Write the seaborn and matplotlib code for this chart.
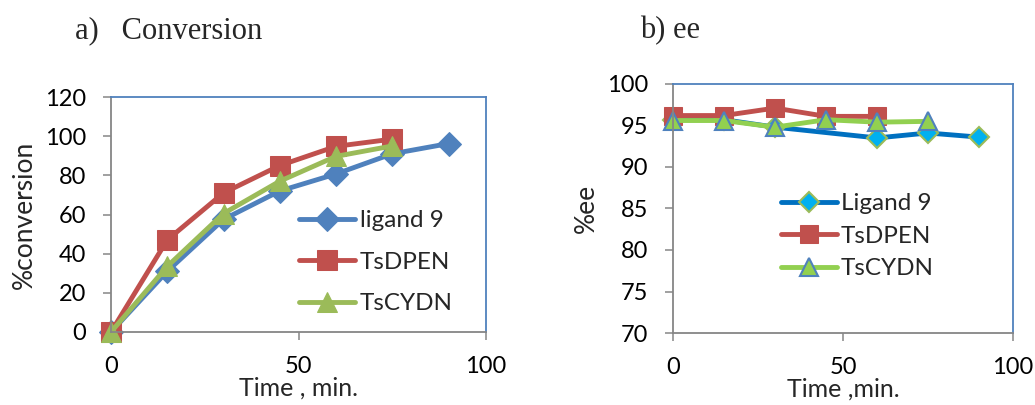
import matplotlib
matplotlib.use("Agg")
import matplotlib.pyplot as plt
import seaborn as sns

# Reaction time points (min)
time_conv = [0, 15, 30, 45, 60, 75, 90]
time_conv_short = [0, 15, 30, 45, 60, 75]
time_ee_ligand9 = [0, 15, 30, 60, 75, 90]
time_ee_tsdpen = [0, 15, 30, 45, 60]
time_ee_tscydn = [0, 15, 30, 45, 60, 75]

# a) Conversion (%)
conv_ligand9 = [0, 31, 57.5, 72, 80.7, 91, 96.2]
conv_tsdpen = [0, 47, 71, 85, 94.8, 98.5]
conv_tscydn = [0, 33.5, 60.5, 77, 89.7, 95]

# b) Enantiomeric excess (%)
ee_ligand9 = [95.7, 95.7, 94.8, 93.5, 94.1, 93.6]
ee_tsdpen = [96.2, 96.2, 97.1, 96.1, 96.1]
ee_tscydn = [95.6, 95.6, 94.8, 95.7, 95.4, 95.5]

x_ticks = [0, 50, 100]
conv_ticks = [0, 20, 40, 60, 80, 100, 120]
ee_ticks = [70, 75, 80, 85, 90, 95, 100]

sns.set_theme(style="white")
plt.rcParams['font.family'] = ['Lato', 'DejaVu Sans']

W, H = 1035, 405
fig = plt.figure(figsize=(W / 100, H / 100), dpi=100)

def px_axes(x0, y0, x1, y1):
    return fig.add_axes([x0 / W, 1 - y1 / H, (x1 - x0) / W, (y1 - y0) / H])

ax1 = px_axes(111, 97, 486, 332)
ax2 = px_axes(673, 84, 1013, 333)

TICK_FS = 17
LABEL_FS = 18
LEG_FS = 17.5
GREY = "#868686"
FRAME = "#4F81BD"

def style_axes(ax, yticks, xlabel, ylabel):
    ax.set_xlim(0, 100)
    ax.set_xticks(x_ticks)
    ax.set_ylim(yticks[0], yticks[-1])
    ax.set_yticks(yticks)
    for side in ("left", "bottom"):
        ax.spines[side].set_color(GREY)
        ax.spines[side].set_linewidth(1.3)
    for side in ("top", "right"):
        ax.spines[side].set_color(FRAME)
        ax.spines[side].set_linewidth(1.3)
    ax.tick_params(axis="both", direction="out", length=6, width=1.1,
                   color=GREY, labelsize=TICK_FS, labelcolor="black",
                   bottom=True, left=True)
    ax.tick_params(axis="x", pad=11)
    ax.tick_params(axis="y", pad=12)
    ax.set_xlabel(xlabel, fontsize=LABEL_FS, labelpad=0)
    ax.set_ylabel(ylabel, fontsize=19, labelpad=6)
    ax.grid(False)

# ---- a) Conversion ----
c_blue, c_red, c_green = "#4F81BD", "#C0504D", "#9BBB59"
sns.lineplot(x=time_conv, y=conv_ligand9, ax=ax1, color=c_blue, lw=3.5,
             marker="D", markersize=12.5, markeredgecolor=c_blue,
             label="ligand 9", clip_on=False)
sns.lineplot(x=time_conv_short, y=conv_tsdpen, ax=ax1, color=c_red, lw=3.5,
             marker="s", markersize=14, markeredgecolor=c_red,
             label="TsDPEN", clip_on=False)
sns.lineplot(x=time_conv_short, y=conv_tscydn, ax=ax1, color=c_green, lw=3.5,
             marker="^", markersize=15, markeredgecolor=c_green,
             label="TsCYDN", clip_on=False)
style_axes(ax1, conv_ticks, "Time , min.", "%conversion")
ax1.legend(loc="upper left", bbox_to_anchor=(0.475, 0.56), frameon=False,
           fontsize=LEG_FS, handlelength=2.3, handletextpad=0.2,
           labelspacing=0.85, borderaxespad=0)

# ---- b) ee ----
e_blue, e_cyan, e_red, e_green = "#0070C0", "#00B0F0", "#C0504D", "#92D050"
sns.lineplot(x=time_ee_ligand9, y=ee_ligand9, ax=ax2, color=e_blue, lw=3.5,
             marker="D", markersize=10.5, markerfacecolor=e_cyan,
             markeredgecolor="#9BBB59", markeredgewidth=1.5,
             label="Ligand 9", clip_on=False)
sns.lineplot(x=time_ee_tsdpen, y=ee_tsdpen, ax=ax2, color=e_red, lw=3.5,
             marker="s", markersize=13, markeredgecolor=e_red,
             label="TsDPEN", clip_on=False)
sns.lineplot(x=time_ee_tscydn, y=ee_tscydn, ax=ax2, color=e_green, lw=3.5,
             marker="^", markersize=13.5, markerfacecolor=e_green,
             markeredgecolor="#4F81BD", markeredgewidth=1.5,
             label="TsCYDN", clip_on=False)
style_axes(ax2, ee_ticks, "Time ,min.", "%ee")
ax2.legend(loc="upper left", bbox_to_anchor=(0.29, 0.60), frameon=False,
           fontsize=LEG_FS, handlelength=2.3, handletextpad=0.15,
           labelspacing=0.47, borderaxespad=0)

fig.text(75 / W, 1 - 31 / H, "a)   Conversion", fontsize=22,
         family=["Liberation Serif", "DejaVu Serif"], va="center", ha="left")
fig.text(640 / W, 1 - 31 / H, "b) ee", fontsize=22,
         family=["Liberation Serif", "DejaVu Serif"], va="center", ha="left")

fig.savefig("out.png", dpi=100)
